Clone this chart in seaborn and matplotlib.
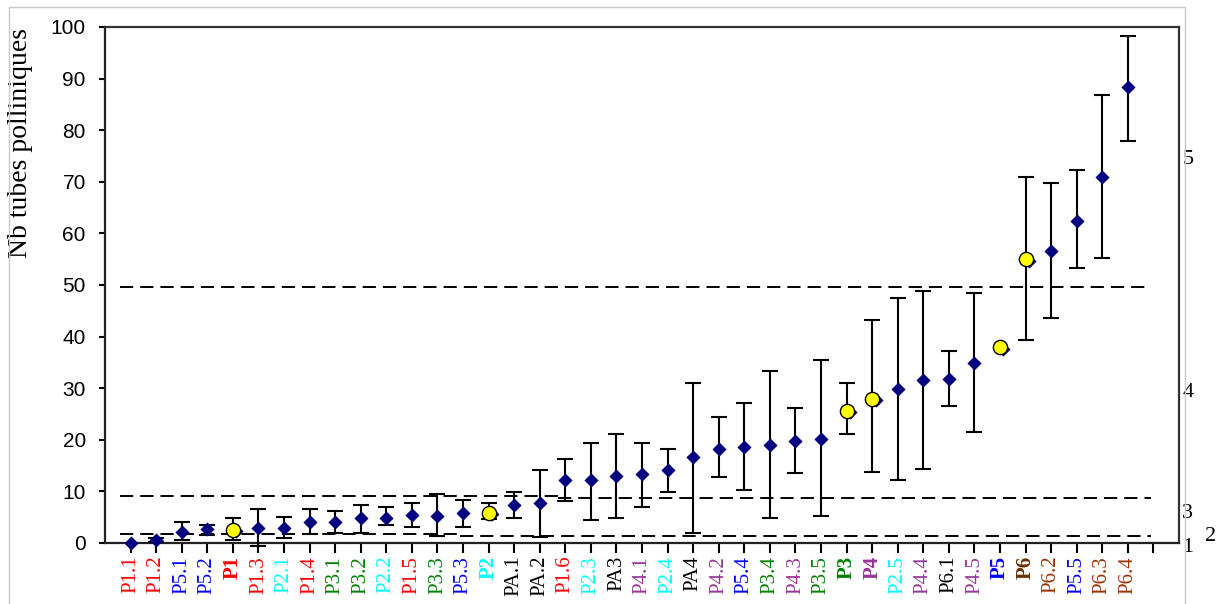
import numpy as np
import pandas as pd
import matplotlib
matplotlib.use("Agg")
import matplotlib.pyplot as plt
import matplotlib.transforms as mtransforms
from matplotlib.patches import Rectangle
import seaborn as sns

# ---------------- data ----------------
labels = ["P1.1", "P1.2", "P5.1", "P5.2", "P1", "P1.3", "P2.1", "P1.4", "P3.1", "P3.2",
          "P2.2", "P1.5", "P3.3", "P5.3", "P2", "PA.1", "PA.2", "P1.6", "P2.3", "PA3",
          "P4.1", "P2.4", "PA4", "P4.2", "P5.4", "P3.4", "P4.3", "P3.5", "P3", "P4",
          "P2.5", "P4.4", "P6.1", "P4.5", "P5", "P6", "P6.2", "P5.5", "P6.3", "P6.4"]

label_groups = ["red", "red", "blue", "blue", "red", "red", "cyan", "red", "green", "green",
                "cyan", "red", "green", "blue", "cyan", "black", "black", "red", "cyan", "black",
                "purple", "cyan", "black", "purple", "blue", "green", "purple", "green", "green", "purple",
                "cyan", "purple", "black", "purple", "blue", "darkbrown", "brown", "blue", "brown", "brown"]

group_means = ["P1", "P2", "P3", "P4", "P5", "P6"]

means = [0.0, 0.6, 2.2, 2.65, 2.5, 2.9, 2.9, 4.1, 4.0, 4.9,
         4.9, 5.4, 5.3, 5.8, 5.8, 7.3, 7.7, 12.2, 12.2, 12.9,
         13.4, 14.1, 16.7, 18.2, 18.6, 18.9, 19.8, 20.2, 25.6, 28.0,
         29.9, 31.5, 31.8, 34.8, 37.9, 55.0, 56.6, 62.5, 70.9, 88.4]

bar_top = [0.0, 1.0, 4.1, 3.4, 4.8, 6.5, 5.1, 6.5, 6.2, 7.3,
           7.0, 7.7, 9.4, 8.3, 7.7, 9.8, 14.1, 16.2, 19.3, 21.2,
           19.3, 18.3, 31.1, 24.4, 27.2, 33.3, 26.2, 35.5, 31.1, 43.2,
           47.4, 48.9, 37.2, 48.5, 37.9, 70.9, 69.8, 72.3, 86.9, 98.3]

bar_bottom = [0.0, 0.2, 0.6, 1.6, 0.6, -0.6, 0.9, 1.7, 2.0, 1.9,
              3.4, 3.1, 1.4, 3.1, 4.6, 4.8, 1.2, 8.1, 4.5, 4.8,
              7.0, 9.8, 2.0, 12.7, 10.2, 4.8, 13.5, 5.2, 21.2, 13.7,
              12.3, 14.4, 26.5, 21.5, 37.9, 39.3, 43.6, 53.2, 55.3, 78.0]

# dashed threshold lines: (level, start category, end category)
threshold_levels = [49.7, 9.2, 8.8, 1.75, 1.36]
threshold_start = [-0.4, -0.4, 16.7, -0.4, 12.9]
threshold_end = [39.9, 16.7, 39.9, 12.9, 39.9]

# right-side class annotations
side_labels = ["5", "4", "3", "1", "2"]
side_values = [74.4, 29.1, 5.8, -0.8, 1.2]

yticks = list(range(0, 101, 10))
ylabel = "Nb tubes polliniques"

palette = {"red": "#FF0000", "blue": "#0000FF", "cyan": "#00FFFF", "green": "#008000",
           "purple": "#993399", "black": "#000000", "brown": "#993300", "darkbrown": "#663300"}

# ---------------- figure ----------------
sns.set_theme(style="white")
plt.rcParams["font.family"] = ["Liberation Serif", "DejaVu Serif"]

W, H = 1222, 604
fig = plt.figure(figsize=(W / 100, H / 100), dpi=100, facecolor="white")
ax = fig.add_axes([105 / W, (H - 543) / H, 1074 / W, 516 / H])

n = len(labels)
df = pd.DataFrame({
    "label": labels,
    "pos": np.arange(n),
    "mean": means,
    "top": bar_top,
    "bottom": bar_bottom,
})
df["is_group"] = df["label"].isin(group_means)
df["err_lo"] = df["mean"] - df["bottom"]
df["err_hi"] = df["top"] - df["mean"]

# dashed lines
for lvl, x0, x1 in zip(threshold_levels, threshold_start, threshold_end):
    ax.hlines(lvl, x0, x1, colors="black", linewidth=1.4,
              linestyles=(0, (6.8, 3.6)), zorder=2)

# error bars
has_err = (df["err_lo"] + df["err_hi"]) > 0
sub = df[has_err]
eb = ax.errorbar(sub["pos"], sub["mean"], yerr=[sub["err_lo"], sub["err_hi"]],
                 fmt="none", ecolor="black", elinewidth=1.5, capsize=6, capthick=1.5,
                 zorder=3)
for child in eb.get_children():
    child.set_clip_on(False)

# diamonds (individuals)
d_ind = df[~df["is_group"]]
sns.scatterplot(data=d_ind, x="pos", y="mean", marker="D", s=52, color="#000080",
                edgecolor="#000080", linewidth=0, ax=ax, zorder=4, clip_on=False, legend=False)

# diamonds peeking behind group means
d_grp = df[df["is_group"]]
off = mtransforms.offset_copy(ax.transData, fig=fig, x=2.5, y=-1.0, units="points")
ax.scatter(d_grp["pos"], d_grp["mean"], marker="D", s=52, color="#000080",
           linewidth=0, zorder=4.5, transform=off, clip_on=False)

# yellow circles (group means)
sns.scatterplot(data=d_grp, x="pos", y="mean", marker="o", s=105, color="#FFFF00",
                edgecolor="black", linewidth=1.0, ax=ax, zorder=5, clip_on=False, legend=False)

# axes
ax.set_xlim(-1, 41)
ax.set_ylim(0, 100)
ax.set_xlabel("")
ax.set_xticks(np.arange(0, 41))
ax.set_xticklabels(labels + [""], rotation=90, fontsize=15, family="Liberation Serif")
for lab, name in zip(ax.get_xticklabels(), labels):
    if name in group_means:
        lab.set_fontweight("bold")

ax.set_yticks(yticks)
ax.set_yticklabels([str(v) for v in yticks], fontsize=15, family="Liberation Sans", color="black")

ax.tick_params(axis="x", direction="out", length=7.2, width=1.5, pad=2, bottom=True, colors="black")
ax.tick_params(axis="y", direction="out", length=4.3, width=1.5, pad=9.5, left=True, colors="black")
for lab, grp in zip(ax.get_xticklabels(), label_groups + ["black"]):
    lab.set_color(palette[grp])

for side in ["left", "bottom", "top", "right"]:
    ax.spines[side].set_visible(True)
    ax.spines[side].set_color("#222222")
    ax.spines[side].set_linewidth(1.6)
ax.spines["top"].set_color("#333333")
ax.spines["right"].set_color("#333333")

ax.set_ylabel(ylabel, fontsize=20, family="Liberation Serif", color="black")
ax.yaxis.set_label_coords(-0.067, 0.775)

# right-side annotations
trans = mtransforms.blended_transform_factory(ax.transAxes, ax.transData)
for txt, val in zip(side_labels, side_values):
    xpos = 1.024 if txt == "2" else 1.003
    ax.text(xpos, val, txt, transform=trans, ha="left", va="center", fontsize=16,
            family="Liberation Serif", color="black", clip_on=False)

# outer chart-area border
fig.patches.append(Rectangle((9 / W, -0.1), (1185 - 9) / W, 1 - 7 / H + 0.1,
                             transform=fig.transFigure, fill=False,
                             edgecolor="#C8C8C8", linewidth=1.0))

fig.savefig("out.png", dpi=100, facecolor="white")
